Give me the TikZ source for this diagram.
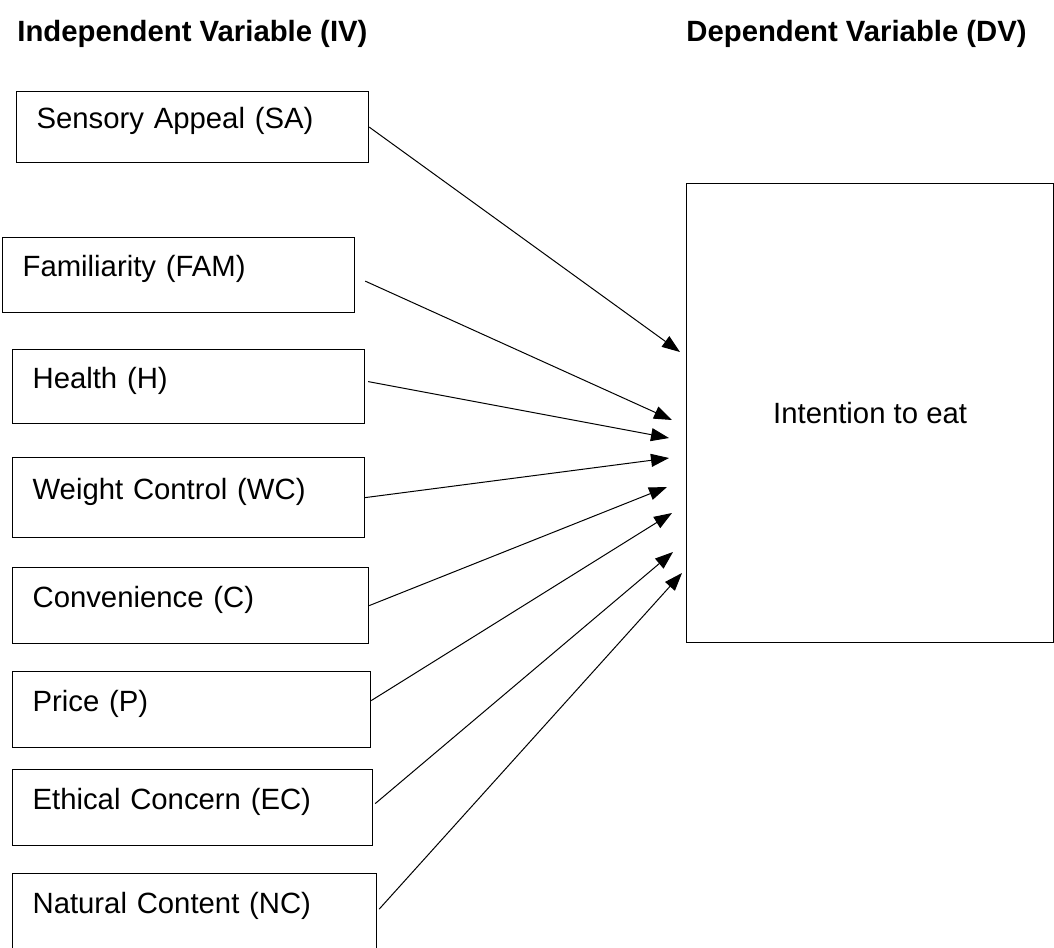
\documentclass[tikz,border=0pt]{standalone}
\usepackage{fontspec}
\setmainfont{Liberation Sans}
\usetikzlibrary{arrows.meta}
\tikzset{
  ivbox/.style={draw, line width=0.6pt, anchor=north west, align=left,
    inner xsep=10pt, text height=10pt, text depth=8.5pt},
  dvbox/.style={draw, line width=0.6pt, anchor=north west,
    minimum width=183.5pt, minimum height=229.5pt},
  heading/.style={anchor=base west, inner sep=0pt, font=\fontsize{14.65}{17}\selectfont\bfseries},
  link/.style={-{Triangle[length=9pt,width=6.5pt]}, line width=0.5pt},
}
\begin{document}
\begin{tikzpicture}[x=0.5pt, y=-0.5pt, font=\fontsize{14.65}{17}\selectfont]
  \useasboundingbox (0,0) rectangle (1054,947);
  \draw
    (17,42) node[heading] (iv) {Independent Variable (IV)}
    (686,42) node[heading] (dvhead) {Dependent Variable (DV)};
  \draw
    (16,91) node[ivbox, text width=156pt, minimum height=35.5pt] (sa) {Sensory Appeal (SA)}
    (2,237) node[ivbox, text width=156pt, minimum height=37.5pt] (fam) {Familiarity (FAM)}
    (12,349) node[ivbox, text width=156pt, minimum height=37pt] (h) {Health (H)}
    (12,457) node[ivbox, text width=156pt, minimum height=40pt] (wc) {Weight Control (WC)}
    (12,567) node[ivbox, text width=158pt, minimum height=38pt] (c) {Convenience (C)}
    (12,671) node[ivbox, text width=159pt, minimum height=38pt] (p) {Price (P)}
    (12,769) node[ivbox, text width=160pt, minimum height=38pt] (ec) {Ethical Concern (EC)}
    (12,873) node[ivbox, text width=162pt, minimum height=38.5pt] (nc) {Natural Content (NC)}
    (686,183) node[dvbox] (dv) {};
  \node (intent) at (dv.center) {Intention to eat};
  % arrow tips in front of the DV box
  \coordinate (in-sa) at (680,352);
  \coordinate (in-fam) at (672,420);
  \coordinate (in-h) at (669,438);
  \coordinate (in-wc) at (669,458);
  \coordinate (in-c) at (667,487);
  \coordinate (in-p) at (672,513);
  \coordinate (in-ec) at (673,552);
  \coordinate (in-nc) at (682,573);
  \begin{scope}[link]
    \draw (sa.east) to (in-sa);
    \draw ([xshift=5pt,yshift=-3pt]fam.east) to (in-fam);
    \draw ([xshift=1.5pt,yshift=2.5pt]h.east) to (in-h);
    \draw (wc.east) to (in-wc);
    \draw (c.east) to (in-c);
    \draw ([yshift=4.5pt]p.east) to (in-p);
    \draw ([xshift=1pt,yshift=2pt]ec.east) to (in-ec);
    \draw ([xshift=1pt,yshift=1.5pt]nc.east) to (in-nc);
  \end{scope}
\end{tikzpicture}
\end{document}
